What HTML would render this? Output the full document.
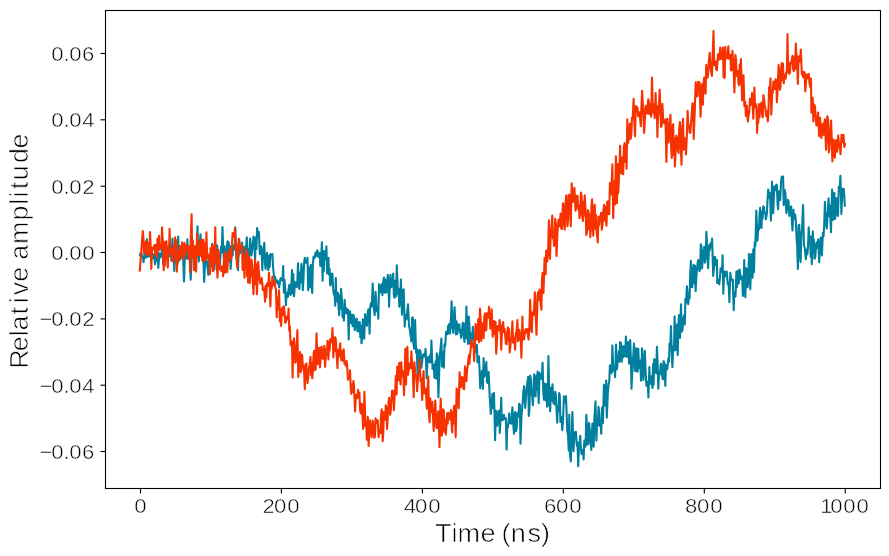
<!DOCTYPE html>
<html lang="en"><head><meta charset="utf-8"><title>Relative amplitude vs Time (ns)</title>
<style>
html,body{margin:0;padding:0;background:#fff;}
body{width:889px;height:556px;overflow:hidden;position:relative;font-family:"Liberation Sans",sans-serif;}
svg{position:absolute;left:0;top:0;display:block;}
text{font-family:"Liberation Sans",sans-serif;fill:#000;stroke:#fff;stroke-width:0.65px;paint-order:fill stroke;}
.tk{font-size:20.5px;stroke-width:0.5px;}
.lb{font-size:25px;}
</style></head><body>
<svg width="889" height="556" viewBox="0 0 889 556">
<rect x="0" y="0" width="889" height="556" fill="#fff"/>
<g fill="none" stroke-linejoin="round" stroke-linecap="butt" stroke-width="2.1">
<path stroke="#00809e" d="M139.7 256.3 L140.3 253.4 L141.0 255.8 L141.6 253.4 L142.2 257.5 L142.9 256.3 L143.5 262.1 L144.2 257.0 L144.8 252.6 L145.5 257.8 L146.2 252.1 L146.9 239.2 L147.5 257.0 L148.2 249.7 L148.9 256.0 L149.5 256.3 L150.1 253.8 L150.7 254.5 L151.3 253.0 L151.9 255.6 L152.5 254.2 L153.2 258.1 L153.8 254.2 L154.4 257.6 L155.0 264.1 L155.6 255.7 L156.3 246.6 L157.0 261.0 L157.7 251.5 L158.3 267.9 L159.0 258.6 L159.7 253.4 L160.4 257.7 L161.0 253.3 L161.7 255.7 L162.4 238.5 L163.1 264.1 L163.7 249.8 L164.3 257.3 L164.8 250.9 L165.4 254.8 L166.0 250.6 L166.6 255.2 L167.2 249.6 L167.8 253.2 L168.4 246.0 L169.0 256.5 L169.6 247.4 L170.2 253.2 L170.7 245.0 L171.3 260.8 L171.9 252.1 L172.5 238.5 L173.1 259.9 L173.7 252.7 L174.3 270.9 L174.9 258.2 L175.6 244.3 L176.2 258.9 L176.9 251.9 L177.5 264.1 L178.2 236.5 L178.8 257.8 L179.4 260.5 L180.0 247.1 L180.6 258.7 L181.2 257.5 L181.8 255.2 L182.4 253.1 L183.1 256.0 L184.0 281.4 L184.9 254.7 L185.5 255.7 L186.2 258.4 L186.8 258.6 L187.4 239.2 L188.0 258.6 L188.6 258.6 L189.2 257.0 L189.8 254.7 L190.7 279.7 L191.7 254.7 L192.3 250.1 L192.9 255.1 L193.6 249.1 L194.2 258.7 L194.8 249.3 L195.5 250.5 L196.1 245.8 L196.8 251.1 L197.5 226.3 L198.2 256.8 L198.8 261.4 L199.7 244.4 L200.5 234.4 L201.2 256.0 L201.9 255.1 L202.6 258.5 L203.3 256.0 L204.2 282.0 L205.2 257.4 L206.3 258.7 L206.9 263.4 L207.6 267.9 L208.3 274.9 L209.0 256.9 L209.6 264.4 L210.3 257.5 L211.0 266.7 L211.7 254.1 L212.3 243.9 L213.0 261.7 L213.7 253.3 L214.4 269.5 L215.0 257.8 L215.7 250.6 L216.4 258.8 L217.1 245.2 L217.7 252.3 L218.4 259.1 L219.1 253.9 L219.8 265.5 L220.4 256.6 L221.1 246.5 L221.8 252.3 L222.5 227.0 L223.1 245.6 L223.8 258.5 L224.5 246.3 L225.2 268.2 L225.9 260.0 L226.7 249.0 L227.5 241.2 L228.1 254.0 L228.7 242.4 L229.3 252.9 L229.9 246.0 L230.6 268.9 L231.2 260.4 L231.9 248.8 L232.6 255.5 L233.3 245.2 L233.9 248.5 L234.6 249.4 L235.3 227.4 L236.0 250.7 L236.6 258.9 L237.3 251.6 L238.0 270.2 L238.7 249.4 L239.3 243.9 L240.0 253.1 L240.7 248.2 L241.4 250.8 L242.0 242.5 L242.7 248.4 L243.4 258.4 L244.1 265.5 L244.7 246.8 L245.4 257.8 L246.1 247.2 L246.8 237.4 L247.4 255.8 L248.1 249.0 L248.8 265.5 L249.5 251.7 L250.1 238.6 L250.8 244.6 L251.5 255.5 L252.1 250.3 L252.8 245.6 L253.5 236.6 L254.3 243.1 L255.1 259.5 L255.8 237.4 L256.5 248.9 L257.1 228.1 L257.7 236.6 L258.3 236.6 L258.9 231.9 L259.8 254.1 L260.9 246.0 L261.6 248.0 L262.3 270.3 L262.9 254.0 L263.6 251.0 L264.3 242.7 L265.0 263.7 L265.6 269.0 L266.3 258.8 L267.0 252.8 L267.7 264.1 L268.3 270.3 L269.0 255.8 L269.7 267.0 L270.4 254.1 L271.0 256.3 L271.7 256.3 L272.4 254.1 L273.1 267.3 L273.7 273.6 L274.4 278.4 L275.1 276.9 L275.8 282.8 L276.4 280.4 L277.1 280.4 L277.8 283.5 L278.5 281.7 L279.1 287.5 L279.8 283.0 L280.5 278.1 L281.2 279.8 L281.8 280.1 L282.5 280.1 L283.2 266.0 L283.9 292.7 L284.5 279.8 L285.2 288.4 L285.9 305.1 L286.6 294.7 L287.2 292.8 L287.9 297.0 L288.6 289.1 L289.3 284.8 L289.9 294.0 L290.6 295.0 L291.3 287.6 L292.0 270.0 L292.6 293.5 L293.3 274.0 L294.0 296.3 L294.7 287.4 L295.3 282.3 L296.0 286.2 L296.7 287.1 L297.4 280.2 L298.0 263.3 L298.7 285.2 L299.4 288.9 L300.1 272.5 L300.7 282.4 L301.4 263.9 L302.1 271.0 L302.8 290.2 L303.4 280.7 L304.1 262.7 L304.8 257.9 L305.5 262.7 L306.1 262.7 L306.8 261.7 L307.5 257.9 L308.2 290.2 L308.8 268.7 L309.5 267.3 L310.2 287.5 L310.9 264.9 L311.5 277.4 L312.2 292.9 L312.9 263.2 L313.6 256.5 L314.2 258.5 L314.9 257.3 L315.6 252.5 L316.4 255.9 L317.2 250.4 L317.8 252.6 L318.4 256.9 L319.0 255.2 L319.6 252.9 L320.3 266.0 L321.1 261.2 L321.9 242.3 L322.6 280.8 L323.2 251.1 L323.8 271.5 L324.4 255.2 L325.0 251.3 L325.7 258.9 L326.4 246.4 L327.1 273.4 L327.7 261.4 L328.4 257.9 L329.0 274.5 L329.6 268.7 L330.2 285.5 L330.9 284.2 L331.7 273.5 L332.5 274.0 L333.1 288.4 L333.8 294.3 L334.5 291.4 L335.2 305.8 L335.8 278.1 L336.5 301.3 L337.2 297.0 L337.9 292.8 L338.5 305.6 L339.2 315.2 L339.8 295.3 L340.4 308.7 L341.0 288.9 L341.8 297.8 L342.6 317.2 L343.3 314.5 L343.9 320.6 L344.6 299.7 L345.3 308.5 L346.0 313.4 L346.6 308.6 L347.3 312.2 L348.0 309.8 L348.7 339.5 L349.3 311.6 L350.0 311.3 L350.7 322.2 L351.3 323.4 L352.0 314.7 L352.7 326.2 L353.4 314.7 L354.0 316.7 L354.7 330.2 L355.4 326.6 L356.1 319.6 L356.7 318.7 L357.4 330.9 L358.1 331.5 L358.9 322.2 L359.7 322.1 L360.3 337.1 L360.9 325.7 L361.5 343.3 L362.1 337.4 L362.8 319.4 L363.5 326.0 L364.2 338.6 L365.1 314.0 L366.2 323.4 L367.0 325.8 L367.8 312.0 L368.4 309.2 L369.0 314.5 L369.6 333.6 L370.2 307.8 L370.9 303.2 L371.5 306.6 L372.1 299.9 L372.7 283.6 L373.6 305.9 L374.7 315.3 L375.6 291.7 L376.3 306.2 L377.0 311.3 L377.7 307.9 L378.3 318.7 L379.0 284.3 L379.7 293.0 L380.4 291.0 L381.5 284.3 L382.4 295.1 L383.2 281.5 L384.0 277.5 L384.6 292.7 L385.2 279.5 L385.8 292.4 L386.4 292.5 L387.1 282.6 L387.8 274.8 L388.5 287.5 L389.1 306.6 L389.8 284.0 L390.5 274.8 L391.2 287.3 L391.8 285.6 L392.5 283.1 L393.2 273.5 L393.9 295.8 L394.5 297.8 L395.3 280.7 L396.1 296.3 L396.8 265.4 L397.9 293.7 L398.6 289.0 L399.3 306.6 L400.1 300.1 L400.9 279.6 L402.0 314.7 L402.6 290.0 L403.1 308.6 L403.7 289.4 L404.7 326.8 L405.3 314.7 L405.8 318.3 L406.4 319.4 L407.2 312.2 L408.0 304.3 L409.0 326.1 L409.7 328.8 L410.3 332.9 L411.4 341.3 L412.1 318.0 L412.8 317.4 L413.4 343.0 L414.1 348.7 L415.1 320.1 L416.1 352.7 L416.8 348.7 L417.5 374.3 L418.1 358.1 L418.7 350.6 L419.3 360.1 L419.9 350.0 L420.6 351.5 L421.3 367.6 L422.0 363.0 L422.8 355.9 L423.6 354.1 L424.2 356.5 L424.9 356.5 L425.6 348.7 L426.7 378.4 L427.4 360.2 L428.2 357.1 L429.0 359.5 L429.6 362.4 L430.2 354.7 L430.8 362.3 L431.4 340.6 L432.0 356.8 L432.6 368.9 L433.2 366.1 L433.8 364.8 L434.4 377.7 L435.0 374.4 L435.6 361.4 L436.2 378.8 L436.8 353.4 L437.6 356.4 L438.4 397.3 L439.1 375.1 L439.8 355.4 L440.6 347.9 L441.4 338.6 L442.0 366.4 L442.6 351.8 L443.2 362.4 L443.8 367.6 L444.5 344.2 L445.2 346.0 L446.1 331.8 L446.8 334.1 L447.5 334.1 L448.1 325.7 L448.7 333.0 L449.3 323.8 L449.9 333.6 L450.5 327.2 L451.1 314.9 L451.6 301.2 L452.5 326.5 L453.3 332.9 L453.9 315.3 L454.6 307.2 L455.3 323.3 L456.0 334.5 L456.6 321.4 L457.3 333.9 L458.0 324.8 L458.7 325.0 L459.3 324.4 L459.9 332.5 L460.5 329.7 L461.1 337.9 L461.9 333.9 L462.7 322.8 L463.3 324.1 L463.9 337.0 L464.5 341.9 L465.1 323.4 L465.7 338.3 L466.4 306.6 L466.9 323.7 L467.5 336.9 L468.1 344.0 L468.8 316.6 L469.4 325.4 L470.1 343.6 L470.8 337.2 L471.5 333.6 L472.1 340.5 L472.8 326.7 L473.5 335.5 L474.2 337.9 L474.8 351.7 L475.5 351.7 L476.2 348.5 L476.9 344.9 L477.5 362.4 L478.2 360.0 L478.9 356.4 L479.6 371.1 L480.2 388.3 L481.3 374.8 L482.1 370.6 L482.9 389.0 L483.6 358.0 L484.3 376.9 L485.0 373.5 L485.6 370.3 L486.3 362.0 L487.0 382.3 L487.7 382.9 L488.6 372.1 L489.7 396.4 L490.8 414.0 L491.7 403.2 L492.5 393.7 L493.3 408.1 L494.0 393.1 L495.1 440.2 L495.8 410.6 L496.4 412.6 L497.1 425.7 L497.8 422.1 L498.5 411.2 L499.1 410.6 L499.8 432.9 L500.5 419.7 L501.2 397.8 L501.8 419.5 L502.5 420.1 L503.2 419.5 L503.9 414.7 L504.5 418.6 L505.2 419.4 L505.9 418.4 L506.6 449.6 L507.2 425.6 L507.9 427.5 L508.6 421.0 L509.3 413.3 L509.9 422.9 L510.6 419.4 L511.2 423.6 L511.8 416.6 L512.4 407.2 L513.2 423.3 L514.0 433.6 L514.7 413.2 L515.3 412.0 L516.0 431.3 L516.7 427.5 L517.4 413.3 L518.0 415.1 L518.5 416.4 L519.1 403.9 L519.8 404.5 L520.5 443.6 L521.4 418.0 L522.1 408.4 L522.8 400.5 L523.4 391.4 L524.1 386.3 L525.2 407.9 L526.0 397.3 L526.8 387.0 L527.5 382.0 L528.2 376.9 L528.8 416.0 L529.5 408.4 L530.2 375.5 L530.9 379.1 L531.5 393.7 L532.2 396.0 L532.9 405.2 L533.6 386.4 L534.2 374.2 L534.9 394.7 L535.6 396.4 L536.3 375.7 L536.9 389.9 L537.6 371.5 L538.7 403.2 L539.5 372.7 L540.3 375.5 L541.1 379.0 L541.8 377.0 L542.6 362.7 L543.3 392.2 L544.0 399.8 L544.6 383.6 L545.3 389.0 L545.9 400.8 L546.5 384.1 L547.1 406.6 L547.7 404.3 L548.4 356.0 L549.0 383.9 L549.6 405.0 L550.2 411.3 L550.9 387.5 L551.7 400.8 L552.5 384.3 L553.4 403.2 L554.0 398.5 L554.6 404.5 L555.2 391.8 L555.8 394.4 L556.5 408.3 L557.2 422.8 L557.9 406.0 L558.5 411.3 L559.2 393.1 L559.8 395.6 L560.4 421.9 L561.0 419.4 L561.6 416.8 L562.3 430.2 L563.1 418.6 L563.9 396.4 L564.6 401.3 L565.3 402.3 L566.0 396.4 L566.6 412.0 L567.3 431.5 L568.0 434.7 L568.7 450.3 L569.3 414.7 L569.7 451.3 L570.8 461.4 L571.6 436.0 L572.4 412.1 L573.5 451.3 L574.6 432.4 L575.3 437.2 L575.9 431.7 L576.9 445.9 L577.5 442.5 L578.2 466.1 L578.9 447.8 L579.6 443.4 L580.2 435.8 L580.9 448.5 L581.6 454.0 L582.3 450.3 L582.9 449.7 L583.6 459.4 L584.3 440.6 L585.0 444.5 L585.6 446.6 L586.3 414.8 L587.0 428.1 L587.7 444.5 L588.3 443.9 L589.0 422.9 L589.7 428.8 L590.4 440.5 L591.3 449.9 L592.4 423.6 L593.1 441.4 L593.7 446.6 L594.4 418.9 L595.5 401.4 L596.4 440.6 L597.1 421.3 L597.8 425.4 L598.5 406.8 L599.1 411.0 L599.8 425.7 L600.5 422.1 L601.2 433.8 L602.1 407.5 L602.9 423.1 L603.9 384.7 L604.8 405.6 L605.5 395.5 L606.2 380.6 L606.8 417.6 L607.9 392.1 L608.6 384.0 L609.3 381.3 L609.9 365.3 L610.6 369.1 L611.2 373.3 L611.8 372.0 L612.4 345.5 L613.3 370.5 L613.9 368.2 L614.5 366.7 L615.1 377.2 L616.0 344.6 L617.0 369.1 L617.6 362.2 L618.3 361.0 L618.9 351.1 L619.5 361.6 L620.1 342.1 L620.9 343.0 L621.7 361.7 L622.8 346.2 L623.4 357.2 L623.9 346.2 L624.5 355.6 L625.2 356.0 L625.9 336.5 L626.8 357.0 L627.5 350.1 L628.2 342.1 L629.1 363.7 L630.2 340.1 L630.9 359.2 L631.5 388.7 L632.6 365.1 L633.3 354.8 L634.0 343.5 L634.9 370.5 L635.6 371.2 L636.3 348.2 L636.9 358.0 L637.6 371.8 L638.3 348.9 L639.0 368.3 L639.6 365.1 L640.3 360.6 L641.0 380.6 L642.1 348.2 L642.7 369.4 L643.4 379.9 L644.1 359.2 L644.8 350.9 L645.7 373.2 L646.4 385.7 L647.1 385.3 L647.7 381.7 L648.4 397.5 L649.4 367.1 L650.0 383.8 L650.7 379.9 L651.3 376.4 L651.9 383.8 L652.5 388.0 L653.1 364.1 L653.6 384.8 L654.2 359.0 L654.9 360.3 L655.6 369.1 L656.2 373.3 L656.9 346.9 L657.6 362.9 L658.3 388.7 L659.1 372.0 L659.9 374.5 L660.6 365.1 L661.2 363.7 L662.3 377.2 L663.0 379.4 L663.7 361.0 L664.5 363.3 L665.3 386.0 L666.0 365.0 L666.6 365.4 L667.3 369.1 L668.4 358.3 L669.0 361.5 L669.6 343.5 L670.3 346.9 L671.0 326.0 L671.7 351.7 L672.4 367.1 L673.2 346.4 L674.0 350.2 L674.6 316.4 L675.6 350.2 L676.3 345.9 L677.0 324.5 L677.7 355.1 L678.3 327.2 L679.0 315.1 L680.0 338.0 L681.0 304.3 L681.7 331.6 L682.4 330.6 L683.5 317.8 L684.2 315.0 L684.8 324.5 L685.4 298.9 L686.1 302.4 L686.9 286.4 L687.5 292.1 L688.2 304.2 L688.9 297.9 L689.6 298.2 L690.2 274.7 L690.9 260.8 L691.6 286.9 L692.3 287.1 L692.9 270.0 L693.6 264.8 L694.3 283.5 L695.0 265.8 L695.6 291.1 L696.3 278.2 L697.0 269.5 L697.7 262.1 L698.3 260.1 L699.4 270.9 L700.1 270.3 L700.8 244.2 L701.5 246.5 L702.1 268.2 L703.1 250.6 L703.7 259.9 L704.2 246.8 L704.8 262.8 L705.6 258.7 L706.4 231.7 L707.3 250.1 L708.1 268.2 L709.1 245.2 L709.8 250.1 L710.5 243.2 L711.3 247.4 L712.1 238.5 L713.2 276.0 L713.9 268.3 L714.5 256.7 L715.2 257.3 L715.9 265.5 L717.0 260.1 L717.2 283.0 L717.9 279.3 L718.6 279.7 L719.3 284.4 L719.9 278.5 L720.6 268.2 L721.3 270.3 L722.0 271.8 L722.6 255.4 L723.3 293.8 L724.0 274.9 L724.7 271.6 L725.3 276.2 L726.0 276.3 L726.7 271.6 L727.8 284.4 L728.6 282.6 L729.4 302.2 L730.3 272.9 L731.4 280.3 L732.1 280.6 L732.8 279.7 L733.7 310.3 L734.3 292.5 L734.9 292.8 L735.5 296.5 L736.4 271.6 L737.0 287.1 L737.6 271.1 L738.2 283.7 L738.8 283.1 L739.5 269.5 L740.2 273.9 L740.9 279.3 L741.5 276.3 L742.2 277.6 L742.9 295.9 L743.6 288.9 L744.2 260.1 L745.3 297.2 L746.3 268.2 L746.9 270.6 L747.6 287.1 L748.3 281.1 L749.0 254.0 L749.6 262.0 L750.3 289.1 L751.4 254.0 L752.0 275.9 L752.6 277.6 L753.3 249.3 L754.0 272.3 L754.7 242.4 L755.4 245.6 L756.3 210.5 L757.4 240.6 L758.4 225.3 L759.0 229.4 L759.5 215.6 L760.1 207.8 L760.8 226.8 L761.5 228.0 L762.1 211.2 L762.6 218.7 L763.2 206.4 L763.9 207.2 L764.6 213.2 L765.3 213.4 L765.9 219.3 L766.9 213.2 L767.5 200.8 L768.2 189.6 L768.9 197.6 L769.6 192.9 L770.2 198.5 L770.9 220.6 L772.0 181.5 L772.6 209.6 L773.2 213.2 L774.3 186.2 L775.0 190.2 L775.6 190.2 L776.3 184.6 L776.9 185.2 L777.5 202.9 L778.1 209.1 L778.8 191.3 L779.4 195.6 L780.2 200.0 L781.0 183.4 L781.7 176.5 L782.4 181.6 L783.1 176.5 L783.7 205.1 L784.6 189.8 L785.4 192.9 L786.4 213.2 L787.1 208.7 L787.8 199.9 L788.5 201.0 L789.4 215.9 L790.0 213.5 L790.6 208.8 L791.2 206.4 L791.8 219.7 L792.5 230.5 L793.5 209.8 L794.1 218.7 L794.6 218.7 L795.2 214.5 L795.9 221.8 L796.6 239.2 L797.2 246.9 L797.9 268.9 L798.6 225.3 L799.3 224.7 L799.9 253.4 L800.6 262.2 L801.3 234.7 L802.0 229.8 L803.1 205.1 L803.9 244.9 L804.7 247.3 L805.8 259.2 L806.6 249.6 L807.4 254.1 L808.0 246.6 L808.7 227.4 L809.4 239.2 L810.1 240.6 L810.7 256.6 L811.2 236.5 L811.8 264.2 L812.8 231.2 L813.4 251.6 L813.9 239.6 L814.5 258.8 L815.3 257.0 L816.1 244.6 L816.8 242.4 L817.5 247.9 L818.2 239.2 L819.2 262.2 L820.2 241.9 L820.8 237.6 L821.4 249.3 L821.9 255.4 L822.9 232.5 L823.6 236.1 L824.2 225.0 L824.9 201.7 L825.5 225.1 L826.1 212.7 L826.7 228.5 L827.3 221.0 L827.9 207.1 L828.6 198.3 L829.2 215.9 L829.8 205.2 L830.4 218.1 L831.0 232.2 L832.1 189.6 L833.0 219.9 L833.7 200.7 L834.4 192.9 L835.0 219.0 L835.7 215.2 L836.4 198.1 L837.1 202.4 L838.0 215.9 L838.8 186.9 L839.6 190.9 L840.4 175.7 L841.4 213.9 L842.5 188.9 L843.1 189.5 L843.8 188.9 L844.9 206.7"/>
<path stroke="#f53200" d="M139.7 271.6 L140.5 261.4 L141.3 250.6 L142.1 239.8 L142.8 231.1 L143.4 238.1 L144.0 252.7 L144.6 253.3 L145.3 243.7 L145.9 241.2 L146.6 249.9 L147.3 255.4 L147.8 242.9 L148.4 254.4 L148.9 244.6 L149.4 252.5 L150.0 232.0 L150.7 245.7 L151.3 268.9 L151.9 252.2 L152.4 248.0 L152.9 249.3 L153.5 249.2 L154.0 245.8 L154.6 245.2 L155.2 254.2 L155.8 244.7 L156.4 249.7 L157.0 257.4 L157.5 239.0 L158.0 249.4 L158.5 239.5 L159.0 235.8 L159.7 250.1 L160.4 246.6 L160.9 245.3 L161.5 247.8 L162.0 227.4 L162.6 239.3 L163.2 249.6 L163.7 270.2 L164.3 242.3 L164.8 265.9 L165.4 243.9 L165.9 241.8 L166.4 241.2 L167.1 258.3 L167.8 267.5 L168.4 249.0 L169.0 251.2 L169.6 228.8 L170.1 249.6 L170.6 253.9 L171.2 252.0 L171.8 249.3 L172.3 260.8 L172.9 261.4 L173.5 245.2 L174.1 256.2 L174.6 252.5 L175.2 237.4 L175.8 262.2 L176.3 240.3 L176.8 271.6 L177.4 256.5 L178.1 252.0 L178.7 260.2 L179.3 254.7 L179.8 246.1 L180.4 257.5 L180.9 251.2 L181.4 256.4 L182.0 242.3 L182.6 245.3 L183.1 251.4 L183.7 259.8 L184.4 242.9 L185.0 254.4 L185.6 245.2 L186.2 249.1 L186.8 249.6 L187.4 245.8 L188.0 246.6 L188.6 257.6 L189.1 246.2 L189.6 254.0 L190.1 272.2 L190.8 237.7 L191.6 214.2 L192.2 257.7 L192.8 240.5 L193.4 252.0 L194.0 270.2 L194.5 246.3 L195.1 263.0 L195.6 247.3 L196.1 271.6 L197.1 233.8 L197.7 253.1 L198.3 243.4 L198.9 255.3 L199.5 253.3 L200.0 241.4 L200.5 255.6 L201.0 240.9 L201.5 239.8 L202.2 260.2 L202.9 261.4 L203.4 239.7 L203.9 256.2 L204.4 243.1 L204.9 259.1 L205.4 251.1 L205.9 260.8 L206.4 232.4 L207.0 251.2 L207.7 257.9 L208.3 257.4 L208.8 254.9 L209.4 261.8 L209.9 274.3 L210.5 248.5 L211.0 247.9 L211.6 259.3 L212.1 245.2 L212.7 271.1 L213.3 270.9 L213.8 246.4 L214.3 261.6 L214.8 247.3 L215.3 227.4 L215.9 263.4 L216.4 251.4 L216.9 267.2 L217.5 277.6 L218.4 250.0 L219.0 256.4 L219.6 266.7 L220.2 269.5 L220.8 266.6 L221.4 271.0 L222.0 266.6 L222.5 267.5 L223.1 276.3 L223.8 260.8 L224.5 253.3 L225.0 272.6 L225.6 252.6 L226.1 269.0 L226.7 262.1 L227.2 272.2 L227.7 263.2 L228.2 252.6 L228.7 261.6 L229.2 252.0 L229.7 249.6 L230.2 255.4 L230.7 250.6 L231.2 258.7 L231.9 245.3 L232.6 233.1 L233.2 237.0 L233.8 237.0 L234.4 235.3 L235.0 228.4 L235.6 249.9 L236.2 242.3 L236.7 262.9 L237.3 267.5 L237.8 245.0 L238.3 256.2 L238.8 238.8 L239.3 239.2 L239.9 248.5 L240.4 249.2 L241.0 249.1 L241.5 248.8 L242.0 245.2 L242.6 269.9 L243.3 254.6 L243.9 260.9 L244.5 277.6 L245.0 260.6 L245.6 268.3 L246.1 249.3 L246.6 254.3 L247.1 276.3 L247.6 252.7 L248.1 282.4 L248.7 282.1 L249.2 257.3 L249.8 283.1 L250.4 262.1 L250.9 276.3 L251.5 259.6 L252.1 265.6 L252.8 281.5 L253.5 294.3 L254.3 272.6 L255.1 259.6 L255.7 284.4 L256.3 264.2 L256.9 294.3 L257.5 280.5 L258.2 261.9 L258.9 271.1 L259.6 278.8 L260.2 283.5 L260.9 280.4 L261.6 278.1 L262.3 283.3 L262.9 290.2 L263.6 288.7 L264.3 288.3 L265.0 301.7 L265.6 285.8 L266.3 297.3 L267.0 283.5 L267.7 286.0 L268.3 285.7 L269.0 272.7 L269.7 285.0 L270.4 306.4 L271.0 282.9 L271.7 288.8 L272.4 276.7 L273.1 285.2 L273.7 285.2 L274.4 280.8 L275.4 287.5 L276.0 289.1 L276.7 317.2 L277.3 297.9 L277.9 309.3 L278.5 302.0 L279.1 290.2 L279.8 321.5 L280.5 309.2 L281.2 326.0 L281.8 310.7 L282.5 307.3 L283.2 314.9 L283.9 306.4 L284.5 311.9 L285.2 322.6 L285.9 322.0 L286.6 316.6 L287.2 318.3 L287.9 319.5 L288.6 308.5 L289.3 330.7 L289.9 326.6 L290.6 345.2 L291.3 343.5 L292.0 341.7 L292.6 377.6 L293.3 344.9 L294.0 338.2 L294.7 348.6 L295.3 362.8 L296.0 361.7 L296.7 344.8 L297.4 330.1 L298.3 377.0 L298.9 362.6 L299.5 359.1 L300.1 352.0 L300.7 372.2 L301.4 369.0 L302.1 354.7 L302.8 365.1 L303.4 365.5 L304.1 371.9 L304.8 389.1 L305.6 364.1 L306.4 363.5 L307.5 383.0 L308.2 377.6 L308.8 369.5 L309.7 364.7 L310.5 356.7 L311.0 374.9 L311.6 362.4 L312.2 378.3 L312.9 372.0 L313.6 354.0 L314.2 350.8 L314.9 370.2 L315.7 369.2 L316.5 333.4 L317.6 364.1 L318.3 352.6 L319.0 347.9 L319.9 367.5 L320.5 361.4 L321.1 347.5 L321.7 346.6 L322.3 358.4 L323.0 358.7 L323.7 351.6 L324.4 345.9 L325.0 366.8 L325.7 357.6 L326.3 349.2 L326.9 354.5 L327.5 340.9 L328.4 359.4 L329.0 341.7 L329.6 350.8 L330.2 339.2 L330.9 342.1 L331.7 342.1 L332.5 328.0 L333.4 357.4 L334.0 337.9 L334.6 351.1 L335.2 337.3 L335.8 339.2 L336.7 355.6 L337.5 368.2 L338.1 350.1 L338.8 356.6 L339.5 349.6 L340.2 343.2 L341.2 360.1 L341.8 359.7 L342.5 351.1 L343.1 360.9 L343.7 349.3 L344.6 364.1 L345.3 362.8 L346.0 366.0 L346.6 360.8 L347.3 367.2 L348.0 379.7 L348.7 377.9 L349.3 375.4 L350.0 377.7 L350.0 370.2 L350.7 387.3 L351.3 393.9 L352.0 384.6 L352.7 391.9 L353.4 381.1 L354.0 385.9 L354.5 398.7 L355.1 411.4 L355.9 395.0 L356.7 395.2 L357.4 398.1 L358.1 389.8 L358.8 396.7 L359.4 392.5 L360.1 410.3 L360.8 413.5 L361.5 403.5 L362.1 404.7 L363.1 429.0 L363.8 421.9 L364.4 391.9 L365.5 426.3 L366.2 422.0 L366.9 439.8 L367.8 416.8 L368.6 445.9 L369.4 430.1 L370.2 420.2 L370.9 427.9 L371.6 437.1 L372.3 431.2 L372.9 420.9 L373.6 428.6 L374.3 437.8 L375.0 436.0 L375.6 418.2 L376.3 422.8 L377.0 423.0 L377.7 420.2 L378.6 437.1 L379.2 430.1 L379.8 429.8 L380.4 433.0 L381.0 415.9 L381.7 409.4 L382.7 441.1 L383.3 433.3 L383.8 412.1 L384.4 415.5 L385.1 419.6 L385.8 405.4 L386.4 410.6 L387.1 429.0 L387.8 416.1 L388.5 402.2 L389.1 397.9 L390.2 414.8 L390.9 409.4 L391.5 397.7 L392.1 390.5 L392.7 400.2 L393.3 391.1 L393.9 410.1 L394.5 397.3 L395.2 390.5 L395.9 375.7 L396.6 394.5 L397.2 366.9 L398.3 380.4 L399.3 362.9 L399.9 372.4 L400.6 384.4 L401.3 362.2 L402.0 376.3 L402.6 375.0 L403.3 371.4 L404.0 395.2 L404.7 375.4 L405.3 348.7 L406.0 384.4 L406.7 357.7 L407.4 346.7 L408.0 374.8 L408.7 370.3 L409.4 363.6 L410.1 366.2 L410.7 368.3 L411.4 351.4 L412.1 364.3 L412.8 371.6 L413.7 397.3 L414.4 362.2 L415.5 377.0 L416.3 374.9 L417.1 391.2 L418.2 375.0 L419.0 374.2 L419.8 359.5 L420.5 381.2 L421.3 378.4 L422.2 400.0 L422.9 379.6 L423.6 371.0 L424.2 393.3 L424.9 388.5 L425.6 388.5 L426.3 398.9 L426.9 408.7 L427.6 388.5 L428.3 376.3 L429.0 416.2 L429.6 422.2 L430.3 398.2 L431.0 412.5 L431.7 403.3 L432.3 402.0 L433.0 417.1 L433.7 431.0 L434.5 413.4 L435.3 400.6 L436.4 427.6 L437.1 428.0 L437.7 416.8 L438.3 411.3 L438.9 426.7 L439.5 447.2 L440.1 415.8 L440.7 398.6 L441.8 435.7 L442.5 430.0 L443.1 409.4 L443.8 410.5 L444.5 432.0 L445.2 419.9 L445.8 434.4 L446.4 425.4 L447.1 413.2 L447.7 423.6 L448.3 412.8 L449.1 415.0 L449.9 419.5 L451.0 410.1 L451.6 423.9 L452.2 432.4 L452.8 412.3 L453.4 423.5 L453.9 407.4 L454.5 405.5 L455.1 418.6 L455.7 437.1 L456.6 388.5 L457.3 391.4 L458.0 400.3 L458.7 408.1 L459.6 372.3 L460.3 380.8 L461.0 387.1 L461.5 384.7 L462.1 377.1 L462.7 377.7 L463.4 388.6 L464.1 389.2 L465.0 366.2 L465.7 371.8 L466.4 381.1 L467.0 371.2 L467.7 366.9 L468.8 355.4 L469.4 363.8 L470.1 354.5 L470.8 347.6 L471.5 339.5 L472.1 346.4 L472.8 344.9 L473.5 342.9 L474.2 361.1 L474.8 348.5 L475.5 324.0 L476.5 339.5 L477.1 325.1 L477.6 339.3 L478.2 319.3 L478.9 342.2 L480.0 308.5 L480.6 317.9 L481.2 340.9 L482.3 323.3 L482.9 331.6 L483.6 338.2 L484.3 317.0 L485.0 313.2 L485.6 330.5 L486.3 330.1 L487.0 313.3 L487.7 313.9 L488.3 317.7 L489.0 306.9 L489.7 316.3 L490.4 328.7 L491.0 327.9 L491.7 309.2 L492.7 336.8 L493.3 321.0 L494.0 321.3 L494.7 334.3 L495.5 321.9 L496.2 353.7 L496.9 342.3 L497.5 326.0 L498.2 330.5 L498.9 330.5 L499.6 320.0 L500.4 325.1 L501.2 349.7 L501.8 336.3 L502.5 326.8 L503.2 322.0 L503.9 331.9 L504.5 328.7 L505.2 335.5 L505.9 343.7 L506.6 344.3 L507.2 332.1 L507.9 327.4 L508.5 340.5 L509.1 329.1 L509.7 352.4 L510.4 346.2 L511.0 339.5 L511.7 337.4 L512.4 321.3 L513.1 342.7 L513.7 340.9 L514.4 337.5 L515.1 349.7 L515.8 333.5 L516.6 331.3 L517.4 320.0 L518.0 341.3 L518.7 339.5 L519.4 329.9 L520.1 334.1 L520.7 338.0 L521.4 357.8 L522.4 316.6 L522.9 334.5 L523.5 338.2 L524.1 339.5 L524.8 332.8 L525.5 329.4 L526.1 332.6 L526.8 330.8 L527.4 328.8 L528.0 336.2 L528.6 339.5 L529.4 327.2 L530.2 299.7 L531.0 328.4 L531.8 332.1 L532.4 312.6 L533.0 315.3 L533.6 315.2 L534.2 305.2 L534.9 292.3 L535.7 314.0 L536.5 334.6 L537.6 295.0 L538.3 291.7 L539.0 300.0 L539.6 289.6 L540.2 291.8 L540.8 305.2 L541.4 309.8 L542.0 279.7 L542.6 272.7 L543.5 293.0 L544.6 257.9 L545.7 274.1 L546.2 250.6 L547.3 261.4 L548.1 251.1 L548.9 220.2 L550.0 258.7 L550.6 237.6 L551.2 231.7 L552.3 215.5 L552.9 238.4 L553.4 232.4 L554.0 245.9 L554.6 242.2 L555.2 218.9 L555.9 223.8 L556.5 256.0 L557.5 231.7 L558.6 219.5 L559.6 226.3 L560.6 213.5 L561.3 228.4 L562.0 229.0 L562.9 203.3 L563.5 206.4 L564.1 221.8 L564.7 229.7 L565.5 203.8 L566.3 195.2 L567.4 226.3 L568.1 220.4 L568.7 195.2 L569.4 194.6 L570.1 207.6 L570.8 226.3 L571.7 183.4 L572.8 202.0 L573.6 197.0 L574.4 187.8 L575.5 210.8 L576.2 205.5 L576.8 195.9 L577.5 195.9 L578.2 209.1 L578.9 205.8 L579.5 218.2 L580.2 212.9 L580.9 192.5 L581.6 196.1 L582.2 216.2 L582.9 220.9 L583.5 201.6 L584.1 215.5 L584.7 195.2 L585.5 208.8 L586.3 235.1 L587.1 231.5 L587.9 210.1 L588.5 212.2 L589.1 229.1 L589.7 214.6 L590.3 237.1 L590.9 228.9 L591.5 205.2 L592.1 199.3 L592.7 222.4 L593.3 235.7 L594.0 207.5 L594.7 204.7 L595.3 228.8 L595.8 214.5 L596.4 229.0 L597.1 236.0 L597.8 242.5 L598.4 216.5 L598.9 225.5 L599.5 219.5 L600.3 217.6 L601.1 212.8 L601.8 229.7 L602.6 224.0 L603.3 211.3 L604.1 204.7 L604.7 220.4 L605.3 206.8 L605.9 220.0 L606.5 225.6 L607.2 201.9 L607.9 201.3 L608.6 214.0 L609.2 214.1 L609.9 183.1 L610.6 194.8 L611.3 191.2 L612.4 164.4 L613.2 218.1 L614.2 181.5 L615.0 204.5 L615.9 156.3 L617.0 203.3 L617.6 164.0 L618.2 193.2 L618.9 180.8 L619.5 166.0 L620.1 145.8 L620.8 171.6 L621.5 173.4 L622.5 157.2 L623.2 174.1 L623.9 147.0 L624.6 143.1 L625.2 161.7 L625.9 145.1 L626.6 168.7 L627.3 119.4 L627.9 143.4 L628.6 139.7 L629.3 126.3 L630.0 123.5 L630.6 138.9 L631.3 135.0 L632.0 117.9 L632.7 118.1 L633.6 98.9 L634.3 121.3 L635.0 136.3 L635.8 106.0 L636.6 109.6 L637.4 107.3 L638.2 116.1 L639.0 115.4 L639.6 112.4 L640.2 119.1 L640.8 126.2 L641.4 107.6 L642.1 90.8 L643.2 110.0 L644.1 132.9 L644.8 121.6 L645.5 107.3 L646.2 105.8 L646.8 112.7 L647.5 113.4 L648.2 99.2 L648.9 101.9 L649.5 114.0 L650.2 104.6 L651.2 116.7 L652.0 77.6 L652.9 112.7 L653.9 104.6 L654.7 118.1 L655.6 93.1 L656.2 112.3 L656.8 106.0 L657.4 137.0 L658.0 115.2 L658.6 110.0 L659.7 89.8 L660.3 109.6 L661.0 126.9 L661.7 125.3 L662.4 103.9 L663.3 120.8 L664.4 123.5 L665.5 119.4 L666.4 162.0 L667.4 118.8 L667.9 128.6 L668.5 142.4 L669.1 137.0 L669.8 123.9 L670.5 114.7 L671.1 147.4 L671.8 157.9 L672.5 127.1 L673.2 124.2 L673.8 155.3 L674.3 138.0 L674.9 166.4 L675.6 153.0 L676.3 135.6 L677.1 138.4 L677.9 150.5 L678.6 153.0 L679.2 128.9 L679.9 122.1 L680.7 143.2 L681.5 164.7 L682.3 128.5 L683.0 118.8 L683.8 149.7 L684.6 143.7 L685.3 138.2 L686.0 154.5 L686.8 137.0 L687.6 110.7 L688.3 124.7 L689.0 126.2 L689.6 132.3 L690.3 132.9 L691.4 118.1 L692.5 103.3 L693.1 103.9 L693.7 139.0 L694.8 110.0 L695.7 82.3 L696.8 96.5 L697.5 95.9 L698.1 81.7 L698.8 86.7 L699.5 82.3 L700.6 116.7 L701.2 96.3 L701.9 84.4 L702.9 104.6 L703.5 83.1 L704.2 77.6 L704.9 87.7 L705.6 93.8 L706.2 64.8 L706.9 73.9 L707.6 77.7 L707.6 77.6 L708.2 71.7 L708.8 62.4 L709.7 52.7 L710.8 70.5 L711.9 75.9 L712.7 54.4 L713.5 31.1 L714.2 65.1 L714.8 63.7 L715.5 61.2 L716.2 69.0 L716.9 70.2 L718.0 54.3 L718.9 59.7 L719.6 56.1 L720.2 47.5 L720.9 59.1 L721.6 57.0 L722.3 53.6 L722.9 47.5 L723.6 77.2 L724.2 52.9 L724.7 77.9 L725.2 46.9 L725.6 52.9 L726.3 57.7 L727.0 58.3 L727.7 53.9 L728.3 46.2 L729.0 58.8 L729.7 57.0 L730.4 54.8 L731.0 70.5 L731.7 69.8 L732.4 50.9 L733.5 63.7 L734.4 92.4 L735.4 55.0 L736.0 59.3 L736.5 75.3 L737.1 75.9 L737.8 70.8 L738.5 83.4 L739.1 85.3 L739.7 64.5 L740.3 83.3 L740.9 59.0 L741.5 77.0 L742.1 100.5 L742.8 97.3 L743.5 75.2 L744.3 105.9 L745.1 101.8 L745.9 116.0 L746.8 105.6 L747.9 121.4 L748.6 115.0 L749.3 111.9 L749.9 98.9 L750.6 101.5 L751.3 104.8 L752.0 93.0 L752.6 104.3 L753.3 118.7 L754.4 87.6 L755.0 107.3 L755.6 103.8 L756.4 106.3 L757.1 132.9 L757.7 119.7 L758.3 122.7 L758.9 104.0 L759.5 117.4 L760.1 105.2 L760.7 107.5 L761.4 102.5 L762.1 115.0 L762.8 117.3 L763.4 95.1 L764.1 99.3 L764.8 105.2 L765.5 109.3 L766.1 116.0 L767.0 111.3 L767.8 121.4 L768.4 113.9 L769.1 87.0 L769.8 91.5 L770.5 78.3 L771.3 114.6 L772.2 91.7 L772.8 92.7 L773.4 81.5 L774.0 84.0 L774.8 89.0 L775.6 79.3 L776.3 80.8 L776.9 102.2 L777.8 85.8 L778.6 65.1 L779.2 71.9 L779.9 89.7 L780.5 86.3 L781.1 71.2 L781.7 63.1 L782.3 80.1 L783.0 63.7 L783.7 83.3 L784.4 74.8 L785.0 75.4 L785.7 78.6 L786.3 72.0 L786.9 73.0 L787.5 34.0 L788.1 71.9 L788.7 63.3 L789.4 73.9 L790.0 72.4 L790.6 62.3 L791.2 62.7 L791.8 59.7 L792.5 55.7 L793.1 69.1 L793.8 71.3 L794.5 56.6 L795.2 68.9 L795.8 43.5 L796.5 55.9 L797.2 66.7 L797.9 84.0 L798.5 56.2 L799.2 59.0 L800.0 61.8 L800.8 49.6 L801.9 74.5 L802.5 73.0 L803.1 77.2 L803.7 71.8 L804.5 72.4 L805.3 91.4 L806.0 81.7 L806.6 74.5 L807.3 75.1 L808.0 78.4 L808.7 73.9 L809.6 84.0 L810.3 87.4 L811.0 78.6 L811.4 112.6 L812.0 105.2 L812.7 97.8 L813.4 121.4 L814.2 104.6 L815.0 106.5 L815.7 116.2 L816.4 125.4 L816.9 117.1 L817.5 125.3 L818.1 112.6 L819.1 136.2 L820.0 117.9 L820.7 124.5 L821.4 137.9 L822.1 133.7 L822.7 124.0 L823.7 134.8 L824.3 122.6 L825.0 119.3 L826.0 149.7 L826.6 137.6 L827.3 116.3 L828.1 119.8 L828.8 152.4 L829.4 149.1 L830.0 135.5 L831.1 120.6 L831.8 140.8 L832.4 161.4 L833.5 139.5 L834.2 147.7 L834.9 157.8 L835.5 141.8 L836.1 140.2 L837.2 151.7 L838.2 135.5 L839.2 146.3 L839.9 147.9 L840.5 154.1 L841.6 134.8 L842.6 142.2 L843.5 134.8 L844.3 147.0 L845.3 142.9"/>
</g>
<g stroke="#000" stroke-width="1.1" fill="none">
<rect x="105.5" y="10.5" width="775.0" height="478.0"/>
<line x1="140.5" y1="488.5" x2="140.5" y2="493.5"/>
<line x1="281.4" y1="488.5" x2="281.4" y2="493.5"/>
<line x1="422.4" y1="488.5" x2="422.4" y2="493.5"/>
<line x1="563.3" y1="488.5" x2="563.3" y2="493.5"/>
<line x1="704.3" y1="488.5" x2="704.3" y2="493.5"/>
<line x1="845.2" y1="488.5" x2="845.2" y2="493.5"/>
<line x1="100.5" y1="451.5" x2="105.5" y2="451.5"/>
<line x1="100.5" y1="385.2" x2="105.5" y2="385.2"/>
<line x1="100.5" y1="318.9" x2="105.5" y2="318.9"/>
<line x1="100.5" y1="252.5" x2="105.5" y2="252.5"/>
<line x1="100.5" y1="186.2" x2="105.5" y2="186.2"/>
<line x1="100.5" y1="119.8" x2="105.5" y2="119.8"/>
<line x1="100.5" y1="53.5" x2="105.5" y2="53.5"/>
</g>
<text class="tk" transform="translate(140.50 513.20) scale(1.080 1)" x="-5.70">0</text>
<text class="tk" transform="translate(281.44 513.20) scale(1.080 1)" x="-17.65 -6.81 5.50">200</text>
<text class="tk" transform="translate(422.38 513.20) scale(1.080 1)" x="-17.26 -6.81 5.46">400</text>
<text class="tk" transform="translate(563.32 513.20) scale(1.080 1)" x="-17.99 -6.90 5.50">600</text>
<text class="tk" transform="translate(704.26 513.20) scale(1.080 1)" x="-17.74 -6.81 5.50">800</text>
<text class="tk" transform="translate(845.20 513.20) scale(1.080 1)" x="-23.11 -13.94 -1.86 10.41">1000</text>
<text class="tk" transform="translate(0.00 459.15) scale(1.080 1)" x="36.51 47.54 58.82 64.21 75.99">−0.06</text>
<text class="tk" transform="translate(0.00 392.80) scale(1.080 1)" x="36.51 47.54 58.82 64.21 76.12">−0.04</text>
<text class="tk" transform="translate(0.00 326.45) scale(1.080 1)" x="36.51 47.54 58.82 64.21 76.06">−0.02</text>
<text class="tk" transform="translate(0.00 260.10) scale(1.080 1)" x="47.54 58.82 64.21 76.06">0.00</text>
<text class="tk" transform="translate(0.00 193.75) scale(1.080 1)" x="47.54 58.82 64.21 76.06">0.02</text>
<text class="tk" transform="translate(0.00 127.40) scale(1.080 1)" x="47.54 58.82 64.21 76.12">0.04</text>
<text class="tk" transform="translate(0.00 61.05) scale(1.080 1)" x="47.54 58.82 64.21 75.99">0.06</text>
<text class="lb" transform="translate(0.00 542.00) scale(1.085 1)" x="400.99 416.12 421.70 442.80 456.70 462.14 470.63 486.07 498.71">Time (ns)</text>
<text class="lb" transform="translate(28.10 364.60) rotate(-90) scale(1.075 1)" x="-3.80 12.33 26.43 31.73 46.66 57.04 64.45 77.17 91.07 97.59 112.09 134.12 148.66 155.46 163.17 171.53 187.47 201.07">Relative amplitude</text>
</svg></body></html>
